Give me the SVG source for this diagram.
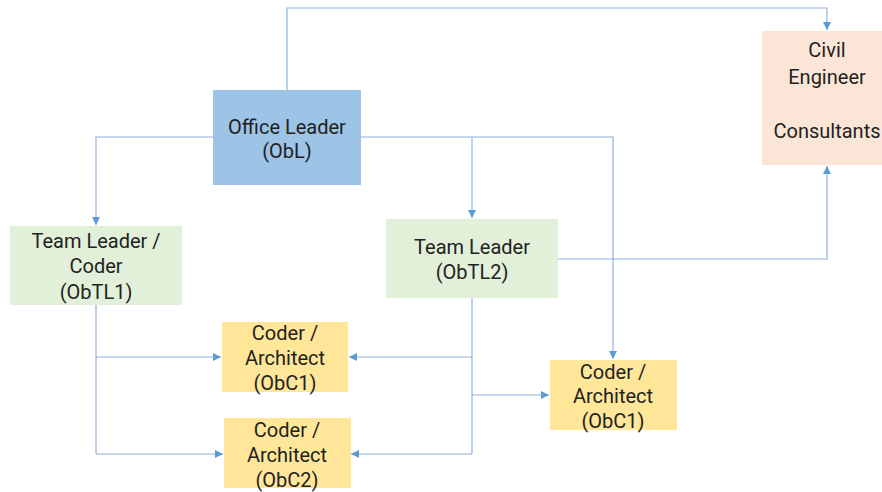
<svg xmlns="http://www.w3.org/2000/svg" width="882" height="492" viewBox="0 0 882 492">
  <defs>
    <marker id="arrow" viewBox="0 0 10 10" refX="10" refY="5" markerWidth="8" markerHeight="8" markerUnits="userSpaceOnUse" orient="auto">
      <path d="M0,0 L10,5 L0,10 z" fill="#5B9BD5"/>
    </marker>
    <style>
      .wire { fill: none; stroke: #8FB2DE; stroke-width: 1.2; }
      .arr { marker-end: url(#arrow); }
      .lbl { font-family: Roboto, "Open Sans", sans-serif; font-size: 20px; fill: #222222; text-anchor: middle; }
      .blue { fill: #9DC3E6; }
      .green { fill: #E2F0D9; }
      .gold { fill: #FFE699; }
      .peach { fill: #FBE5D6; }
    </style>
  </defs>

  <g id="connectors">
    <!-- Office Leader to Civil Engineer over the top -->
    <path class="wire arr" d="M287,90 V8 H827 V30"/>
    <!-- Office Leader to Team Leader / Coder -->
    <path class="wire arr" d="M213,137 H96 V225"/>
    <!-- Office Leader to right-hand coder -->
    <path class="wire arr" d="M361,137 H613 V359"/>
    <!-- Office Leader to Team Leader (ObTL2) -->
    <path class="wire arr" d="M472,137 V218"/>
    <!-- Team Leader (ObTL2) to Civil Engineer -->
    <path class="wire arr" d="M557,259 H827 V166"/>
    <!-- Team Leader / Coder down to the coders -->
    <path class="wire" d="M96,304 V454"/>
    <path class="wire arr" d="M96,357 H221"/>
    <path class="wire arr" d="M96,454 H223"/>
    <!-- Team Leader (ObTL2) down to the coders -->
    <path class="wire" d="M472,298 V454"/>
    <path class="wire arr" d="M472,357 H349"/>
    <path class="wire arr" d="M472,395 H549"/>
    <path class="wire arr" d="M472,454 H351"/>
  </g>

  <g id="office-leader">
    <rect class="blue" x="213" y="90" width="148" height="95"/>
    <text class="lbl" x="287" y="134">Office Leader</text>
    <text class="lbl" x="287" y="158">(ObL)</text>
  </g>

  <g id="civil-engineer">
    <rect class="peach" x="762" y="31" width="120" height="134"/>
    <text class="lbl" x="827" y="57">Civil</text>
    <text class="lbl" x="827" y="84">Engineer</text>
    <text class="lbl" x="827" y="138">Consultants</text>
  </g>

  <g id="team-leader-coder">
    <rect class="green" x="10" y="226" width="172" height="79"/>
    <text class="lbl" x="96" y="248">Team Leader /</text>
    <text class="lbl" x="96" y="273">Coder</text>
    <text class="lbl" x="96" y="299">(ObTL1)</text>
  </g>

  <g id="team-leader">
    <rect class="green" x="386" y="219" width="172" height="79"/>
    <text class="lbl" x="472" y="254">Team Leader</text>
    <text class="lbl" x="472" y="279">(ObTL2)</text>
  </g>

  <g id="coder-obc1-left">
    <rect class="gold" x="222" y="322" width="126" height="70"/>
    <text class="lbl" x="285" y="340">Coder /</text>
    <text class="lbl" x="285" y="365">Architect</text>
    <text class="lbl" x="285" y="390">(ObC1)</text>
  </g>

  <g id="coder-obc2">
    <rect class="gold" x="224" y="418" width="127" height="70"/>
    <text class="lbl" x="287" y="437">Coder /</text>
    <text class="lbl" x="287" y="462">Architect</text>
    <text class="lbl" x="287" y="487">(ObC2)</text>
  </g>

  <g id="coder-obc1-right">
    <rect class="gold" x="550" y="360" width="127" height="70"/>
    <text class="lbl" x="613" y="379">Coder /</text>
    <text class="lbl" x="613" y="403">Architect</text>
    <text class="lbl" x="613" y="428">(ObC1)</text>
  </g>
</svg>
